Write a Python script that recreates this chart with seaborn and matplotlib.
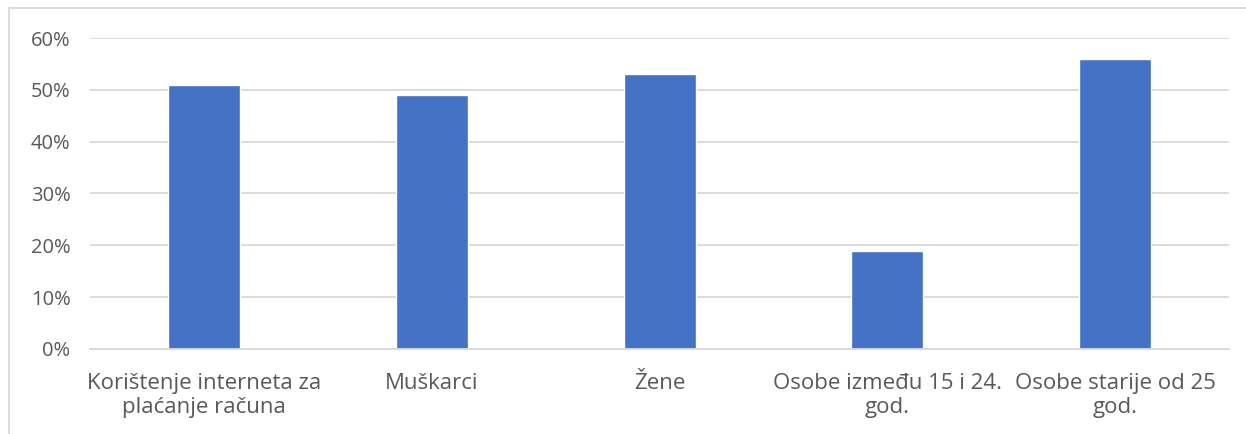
import matplotlib
matplotlib.use('Agg')
import matplotlib.pyplot as plt
import seaborn as sns
import pandas as pd
from matplotlib.ticker import PercentFormatter
from matplotlib.patches import Rectangle

categories = ['Korištenje interneta za\nplaćanje računa', 'Muškarci', 'Žene',
              'Osobe između 15 i 24.\ngod.', 'Osobe starije od 25\ngod.']
values = [0.51, 0.49, 0.53, 0.19, 0.56]
yticks = [0, 0.1, 0.2, 0.3, 0.4, 0.5, 0.6]

df = pd.DataFrame({'kat': categories, 'udio': values})

sns.set_style('white')
plt.rcParams['font.family'] = ['Open Sans', 'DejaVu Sans']

fig = plt.figure(figsize=(12.46, 4.34), dpi=100)
ax = fig.add_axes([0.0722, 0.1959, 0.9142, 0.7165])

sns.barplot(data=df, x='kat', y='udio', color='#4472C4', width=0.316,
            saturation=1, ax=ax)

ax.set_ylim(0, 0.6)
ax.set_yticks(yticks)
ax.yaxis.set_major_formatter(PercentFormatter(1.0, decimals=0))
ax.grid(axis='y', color='#d9d9d9', linewidth=1.3)
ax.set_axisbelow(True)
for s in ['top', 'right', 'left']:
    ax.spines[s].set_visible(False)
ax.spines['bottom'].set_color('#d9d9d9')
ax.spines['bottom'].set_linewidth(1.3)
ax.set_xlabel('')
ax.set_ylabel('')
ax.tick_params(axis='both', length=0, labelcolor='#595959')
ax.tick_params(axis='y', pad=14, labelsize=14.5)
ax.tick_params(axis='x', pad=17, labelsize=16)
for lbl in ax.get_xticklabels():
    lbl.set_linespacing(1.2)
ax.set_xlim(-0.5, 4.5)

# okvir grafikona
fig.patches.append(Rectangle((9 / 1246, -0.1), 1.2, 1.1 - 8 / 434 + 0.0,
                             transform=fig.transFigure, fill=False,
                             edgecolor='#d9d9d9', linewidth=1.3))

fig.savefig('out.png', dpi=100)
